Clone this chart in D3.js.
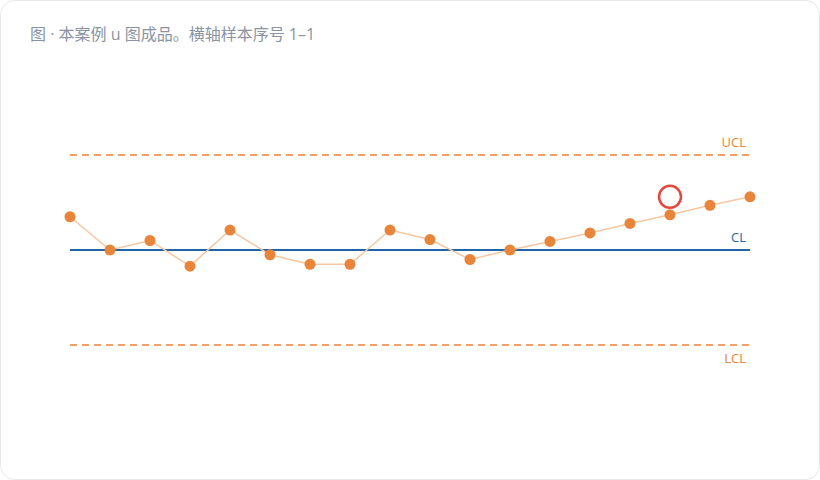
<!DOCTYPE html>
<html>
<head>
<meta charset="utf-8">
<script src="https://cdn.jsdelivr.net/npm/d3@7"></script>
<style>
  html, body { margin: 0; padding: 0; background: #ffffff; }
  body { width: 820px; height: 480px; overflow: hidden; font-family: "Open Sans", "Noto Sans CJK SC", sans-serif; }
</style>
</head>
<body>
<svg class="svg" width="820" height="480"></svg>
<script>
// sample number 1..18 and its u value
let samples = d3.range(1, 19);
let uValues = [2.35, 2.00, 2.10, 1.83, 2.21, 1.95, 1.85, 1.85, 2.21, 2.11, 1.90, 2.00, 2.09, 2.18, 2.28, 2.37, 2.47, 2.56];
let limitNames = ['UCL', 'CL', 'LCL'];
let limitValues = [3.0, 2.0, 1.0];
let flagged = [16];   // sample marked with the red ring
let titleText = '图 · 本案例 u 图成品。横轴样本序号 1–1';

let orange = '#e8853a';
let blue = '#1f66a8';

let svg = d3.select('.svg');

// card
svg.append('rect')
    .attr('x', 0.5).attr('y', 0.5)
    .attr('width', 819).attr('height', 479)
    .attr('rx', 14)
    .attr('fill', '#ffffff')
    .attr('stroke', '#e6e8ee');

svg.append('text')
    .attr('x', 30).attr('y', 40)
    .attr('font-family', '"Open Sans", "Noto Sans CJK SC", sans-serif')
    .attr('font-size', '16px')
    .attr('fill', '#8a93a3')
    .text(titleText);

let x = d3.scaleLinear().domain([1, 18]).range([70, 750]);
let y = d3.scaleLinear().domain([0.3, 3.7]).range([411.5, 88.5]);

// control limits
limitNames.forEach(function (name, i) {
    let isCL = name === 'CL';
    svg.append('line')
        .attr('x1', x(1)).attr('x2', x(18))
        .attr('y1', y(limitValues[i])).attr('y2', y(limitValues[i]))
        .attr('stroke', isCL ? blue : '#f0a068')
        .attr('stroke-width', 2)
        .attr('stroke-dasharray', isCL ? null : '7 5');
    let ly = name === 'LCL' ? y(limitValues[i]) + 18 : y(limitValues[i]) - 8;
    svg.append('text')
        .attr('x', x(18) - 4).attr('y', ly)
        .attr('text-anchor', 'end')
        .attr('font-family', '"Open Sans", "Noto Sans", sans-serif')
        .attr('font-size', '13px')
        .attr('fill', isCL ? blue : orange)
        .text(name);
});

let line = d3.line()
    .x(function (d, i) { return x(samples[i]); })
    .y(function (d) { return y(d); });

svg.append('path')
    .datum(uValues)
    .attr('d', line)
    .attr('fill', 'none')
    .attr('stroke', '#f6c7a2')
    .attr('stroke-width', 1.5);

svg.selectAll('.pt')
    .data(uValues)
    .enter()
    .append('circle')
    .attr('class', 'pt')
    .attr('cx', function (d, i) { return x(samples[i]); })
    .attr('cy', function (d) { return y(d); })
    .attr('r', 5.5)
    .attr('fill', orange);

svg.selectAll('.ring')
    .data(flagged)
    .enter()
    .append('circle')
    .attr('class', 'ring')
    .attr('cx', function (d) { return x(d); })
    .attr('cy', function (d) { return y(uValues[d - 1]) - 18; })
    .attr('r', 11)
    .attr('fill', 'none')
    .attr('stroke', '#e2483c')
    .attr('stroke-width', 2.5);
</script>
</body>
</html>
